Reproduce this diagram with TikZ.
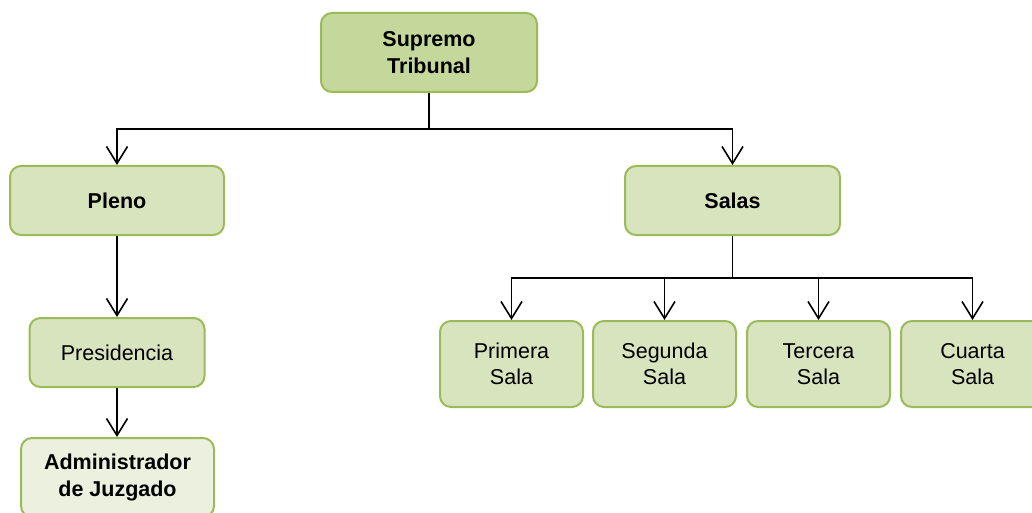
\documentclass[tikz,border=0pt]{standalone}
\usepackage{fontspec}
\setmainfont{Liberation Sans}
\usetikzlibrary{arrows.meta}

\begin{document}
\begin{tikzpicture}[x=1pt, y=-1pt,
        box/.style={draw=boxline, line width=2pt, rounded corners=11pt,
                    fill=boxfill, align=center, inner sep=0pt,
                    font=\fontsize{21.5}{26.5}\selectfont},
        boldbox/.style={box, font=\fontsize{21.5}{26.5}\selectfont\bfseries},
        arr/.style={line width=1.6pt, -{Straight Barb[length=17pt,width=21pt,line width=1.6pt]}}]
        \definecolor{boxline}{RGB}{155,187,89}
        \definecolor{boxfill}{RGB}{215,228,189}
        \definecolor{topfill}{RGB}{197,216,155}
        \definecolor{lowfill}{RGB}{235,241,222}
        \useasboundingbox (0,0) rectangle (1032,513);

        % Define the boxes
        \node[boldbox, fill=topfill, minimum width=216pt, minimum height=79pt] (ST) at (429,52.5) {Supremo\\Tribunal};
        \node[boldbox, minimum width=214pt, minimum height=69pt] (PL) at (117,200.5) {Pleno};
        \node[boldbox, minimum width=215pt, minimum height=69pt] (SA) at (732.5,200.5) {Salas};
        \node[box, minimum width=175pt, minimum height=69pt] (PR) at (117,352.5) {Presidencia};
        \node[boldbox, fill=lowfill, minimum width=193pt, minimum height=79pt] (AJ) at (117.5,477.5) {Administrador\\de Juzgado};
        \node[box, minimum width=143pt, minimum height=86pt] (S1) at (511.5,364) {Primera\\Sala};
        \node[box, minimum width=143pt, minimum height=86pt] (S2) at (664.5,364) {Segunda\\Sala};
        \node[box, minimum width=143pt, minimum height=86pt] (S3) at (818.5,364) {Tercera\\Sala};
        \node[box, minimum width=143pt, minimum height=86pt] (S4) at (972.5,364) {Cuarta\\Sala};

        % Define the connectors
        \draw[arr] (ST.south) -- ++(0,36) -| (PL.north);
        \draw[arr] (ST.south) -- ++(0,36) -| (SA.north);
        \draw[arr] (PL.south) -- (PR.north);
        \draw[arr] (PR.south) -- (PR.south |- AJ.north);
        \draw[arr] (SA.south) -- ++(0,42) -| (S1.north);
        \draw[arr] (SA.south) -- ++(0,42) -| (S2.north);
        \draw[arr] (SA.south) -- ++(0,42) -| (S3.north);
        \draw[arr] (SA.south) -- ++(0,42) -| (S4.north);
    \end{tikzpicture}
\end{document}
